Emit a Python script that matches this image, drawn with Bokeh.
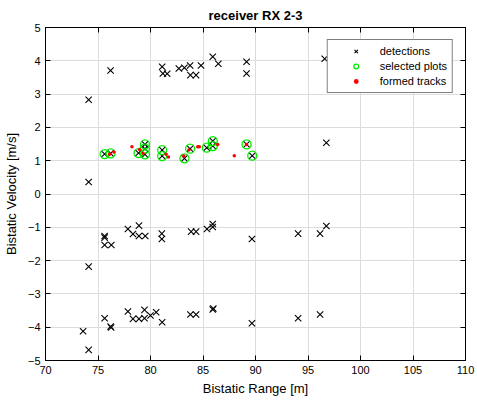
from bokeh.plotting import figure
from bokeh.models import FixedTicker, LinearAxis, Legend, LegendItem
from bokeh.embed import file_html
from bokeh.resources import INLINE

# detections (bistatic range [m], bistatic velocity [m/s])
det_range = [74.11, 74.11, 76.20, 81.11, 81.18, 81.59, 82.70, 83.23, 83.77, 83.80, 84.34, 84.81,
             85.93, 86.46, 89.15, 89.15, 96.59, 96.75,
             75.63, 76.20, 78.86, 79.47, 79.47, 79.47, 81.11, 81.11, 83.23, 83.77, 85.36, 85.93,
             85.93, 89.15, 89.69,
             74.11, 75.63, 75.63, 75.63, 76.27, 77.85, 78.33, 78.90, 78.90, 79.50, 81.08, 81.08,
             83.87, 84.34, 85.38, 85.93, 85.93, 89.66, 94.06, 96.15, 96.75,
             73.58, 74.11, 75.63, 76.20, 76.25, 77.85, 78.33, 78.90, 79.43, 79.43, 80.00, 80.54,
             81.11, 83.80, 84.34, 85.93, 85.98, 89.66, 94.06, 96.15]
det_vel = [2.83, 0.36, 3.71, 3.82, 3.62, 3.61, 3.77, 3.79, 3.86, 3.57, 3.57, 3.86,
           4.12, 3.91, 3.97, 3.62, 4.06, 1.54,
           1.20, 1.22, 1.23, 1.49, 1.36, 1.19, 1.32, 1.14, 1.07, 1.36, 1.39, 1.59,
           1.44, 1.49, 1.15,
           -2.18, -1.26, -1.31, -1.53, -1.53, -1.05, -1.20, -0.95, -1.26, -1.26, -1.19, -1.35,
           -1.13, -1.13, -1.05, -0.90, -0.99, -1.35, -1.19, -1.19, -0.96,
           -4.12, -4.68, -3.73, -3.98, -4.01, -3.53, -3.75, -3.75, -3.48, -3.73, -3.65, -3.55,
           -3.85, -3.62, -3.62, -3.47, -3.44, -3.88, -3.73, -3.62]

# selected plots
sel_range = [75.63, 76.20, 78.86, 79.47, 79.47, 79.47, 81.11, 81.11, 83.23, 83.77, 85.36, 85.93,
             85.93, 89.15, 89.69]
sel_vel = [1.20, 1.22, 1.23, 1.49, 1.36, 1.19, 1.32, 1.14, 1.07, 1.36, 1.39, 1.59,
           1.44, 1.49, 1.15]

# formed tracks
trk_range = [76.10, 76.52, 78.23, 78.96, 79.28, 81.49, 81.71, 83.17, 83.65, 84.50, 84.65,
             86.40, 87.98, 89.15]
trk_vel = [1.19, 1.26, 1.42, 1.34, 1.22, 1.19, 1.11, 1.14, 1.32, 1.42, 1.42,
           1.49, 1.15, 1.49]

x_ticks = [70, 75, 80, 85, 90, 95, 100, 105, 110]
y_ticks = [-5, -4, -3, -2, -1, 0, 1, 2, 3, 4, 5]

FONT = "Liberation Sans"

p = figure(width=477, height=403, output_backend="svg", toolbar_location=None,
           x_range=(70, 110), y_range=(-5, 5),
           min_border_left=44, min_border_right=12, min_border_top=26, min_border_bottom=43,
           title="receiver RX 2-3")
p.title.align = "center"
p.title.text_font = FONT
p.title.text_font_size = "13px"
p.title.text_font_style = "bold"
p.title.text_color = "black"
p.outline_line_color = "black"
p.outline_line_width = 1
p.background_fill_color = "white"
p.border_fill_color = "white"

def style_axis(ax, labels=True):
    ax.major_tick_in = 5
    ax.major_tick_out = 0
    ax.minor_tick_line_color = None
    ax.axis_line_color = "black"
    ax.major_tick_line_color = "black"
    ax.major_label_text_font = FONT
    ax.major_label_text_font_size = "11px"
    ax.major_label_text_color = "black" if labels else None
    ax.axis_label_text_font = FONT
    ax.axis_label_text_font_size = "13px"
    ax.axis_label_text_font_style = "normal"
    ax.axis_label_text_color = "black"

p.xaxis.ticker = FixedTicker(ticks=x_ticks)
p.yaxis.ticker = FixedTicker(ticks=y_ticks)
p.xaxis.axis_label = "Bistatic Range [m]"
p.yaxis.axis_label = "Bistatic Velocity [m/s]"
style_axis(p.xaxis[0])
style_axis(p.yaxis[0])
p.xaxis.major_label_standoff = 5
p.yaxis.major_label_standoff = 5
p.xaxis.axis_label_standoff = 4
p.yaxis.axis_label_standoff = 6

top = LinearAxis(ticker=FixedTicker(ticks=x_ticks))
right = LinearAxis(ticker=FixedTicker(ticks=y_ticks))
style_axis(top, labels=False)
style_axis(right, labels=False)
top.major_label_standoff = 0
right.major_label_standoff = 0
p.add_layout(top, "above")
p.add_layout(right, "right")

p.xgrid.ticker = FixedTicker(ticks=x_ticks)
p.ygrid.ticker = FixedTicker(ticks=y_ticks)
p.grid.grid_line_color = "#dcdcdc"
p.grid.grid_line_width = 1

r_det = p.scatter(det_range, det_vel, marker="x", size=9, line_color="black", line_width=1.1)
r_sel = p.scatter(sel_range, sel_vel, marker="circle", size=9, line_color="#00ee00",
                  fill_color=None, line_width=1.3)
r_trk = p.scatter(trk_range, trk_vel, marker="circle", size=3.5, line_color="red",
                  fill_color="red", line_width=0)

legend = Legend(items=[LegendItem(label="detections", renderers=[r_det]),
                       LegendItem(label="selected plots", renderers=[r_sel]),
                       LegendItem(label="formed tracks", renderers=[r_trk])],
                location="top_right")
legend.margin = 12
legend.padding = 5
legend.spacing = 3
legend.glyph_width = 46
legend.glyph_height = 12
legend.label_height = 12
legend.label_standoff = 1
legend.label_text_font = FONT
legend.label_text_font_size = "11px"
legend.label_text_color = "black"
legend.border_line_color = "black"
legend.border_line_width = 1
legend.background_fill_color = "white"
legend.background_fill_alpha = 1
p.add_layout(legend, "center")

open("out.html", "w").write(file_html(p, INLINE))
